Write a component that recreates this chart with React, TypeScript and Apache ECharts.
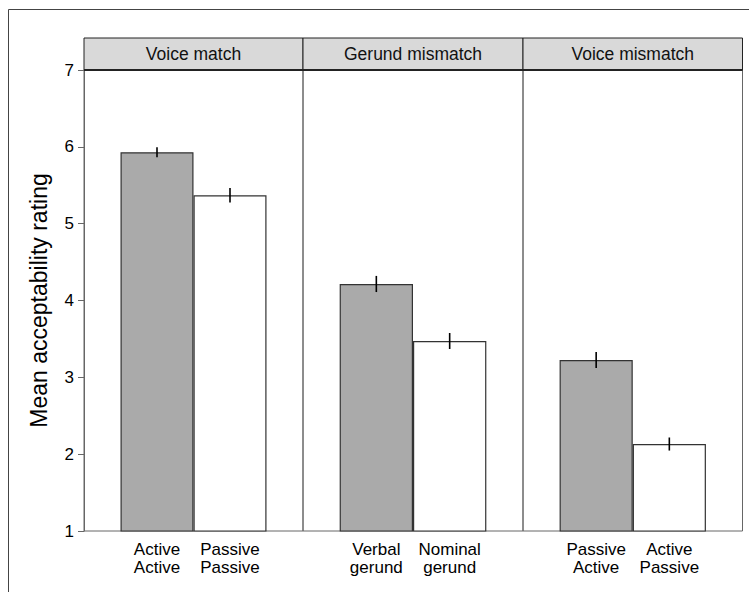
import React, { useEffect, useRef } from "react";
import * as echarts from "echarts";

const panels = ["Voice match", "Gerund mismatch", "Voice mismatch"];
const conditionLabels = [
  ["Active\nActive", "Passive\nPassive"],
  ["Verbal\ngerund", "Nominal\ngerund"],
  ["Passive\nActive", "Active\nPassive"],
];
const means = [
  [5.93, 5.37],
  [4.215, 3.473],
  [3.226, 2.132],
];
const errors = [
  [0.065, 0.093],
  [0.105, 0.104],
  [0.104, 0.085],
];
const yTicks = [1, 2, 3, 4, 5, 6, 7];
const barColors = ["#aaaaaa", "#ffffff"];

const FONT = "'Liberation Sans', Arial, Helvetica, sans-serif";

export default function App() {
  const ref = useRef<HTMLDivElement>(null);

  useEffect(() => {
    if (!ref.current) return;
    const chart = echarts.init(ref.current, null, { renderer: "svg" });

    const edges = [84, 303, 523, 742.5];
    const top = 70;
    const bottom = 531;
    const stripTop = 38;

    const grids: any[] = [];
    const xAxes: any[] = [];
    const yAxes: any[] = [];
    const series: any[] = [];
    const graphics: any[] = [];

    graphics.push({
      type: "rect",
      shape: { x: 8.5, y: 9.5, width: 900, height: 800 },
      style: { fill: "none", stroke: "#444", lineWidth: 1 },
      z: 0,
      silent: true,
    });

    panels.forEach((name, i) => {
      const left = edges[i];
      const width = edges[i + 1] - edges[i];
      grids.push({
        left,
        top,
        width,
        height: bottom - top,
        show: true,
        borderColor: "#666",
        borderWidth: 1,
        backgroundColor: "transparent",
      });
      xAxes.push({
        type: "value",
        gridIndex: i,
        min: 0,
        max: 3,
        interval: 1,
        axisLine: { show: false },
        axisTick: { show: false },
        splitLine: { show: false },
        axisLabel: {
          show: true,
          margin: 9,
          color: "#000",
          fontFamily: FONT,
          fontSize: 17,
          lineHeight: 18.5,
          align: "center",
          formatter: (v: number) => conditionLabels[i][v - 1] ?? "",
        },
      });
      yAxes.push({
        type: "value",
        gridIndex: i,
        min: yTicks[0],
        max: yTicks[yTicks.length - 1],
        interval: 1,
        splitLine: { show: false },
        axisLine: { show: i === 0, lineStyle: { color: "#666", width: 1 } },
        axisTick: { show: i === 0, length: 6, lineStyle: { color: "#666", width: 1 } },
        axisLabel: {
          show: i === 0,
          margin: 10,
          color: "#000",
          fontFamily: FONT,
          fontSize: 17,
        },
        name: i === 0 ? "Mean acceptability rating" : "",
        nameLocation: "middle",
        nameGap: 34,
        nameTextStyle: { color: "#000", fontFamily: FONT, fontSize: 23 },
      });
      series.push({
        type: "bar",
        xAxisIndex: i,
        yAxisIndex: i,
        barWidth: width / 3,
        data: means[i].map((m, j) => ({
          value: [j + 1, m],
          itemStyle: {
            color: barColors[j],
            borderColor: "#333",
            borderWidth: 1.2,
          },
        })),
      });
      series.push({
        type: "custom",
        xAxisIndex: i,
        yAxisIndex: i,
        encode: { x: 0, y: [1, 2] },
        data: means[i].map((m, j) => [j + 1, m - errors[i][j], m + errors[i][j]]),
        renderItem: (_params: any, api: any) => {
          const x = api.value(0);
          const p1 = api.coord([x, api.value(1)]);
          const p2 = api.coord([x, api.value(2)]);
          return {
            type: "line",
            shape: { x1: p1[0], y1: p1[1], x2: p2[0], y2: p2[1] },
            style: { stroke: "#000", lineWidth: 1.6 },
          };
        },
        z: 5,
      });

      graphics.push({
        type: "rect",
        shape: { x: left, y: stripTop, width, height: top - stripTop },
        style: { fill: "#d9d9d9", stroke: "#222", lineWidth: 1 },
        z: 10,
        silent: true,
      });
      graphics.push({
        type: "line",
        shape: { x1: left, y1: top, x2: left + width, y2: top },
        style: { stroke: "#222", lineWidth: 2 },
        z: 11,
        silent: true,
      });
      graphics.push({
        type: "text",
        x: left + width / 2,
        y: (stripTop + top) / 2,
        style: {
          text: name,
          fill: "#111",
          font: `17.5px ${FONT}`,
          textAlign: "center",
          textVerticalAlign: "middle",
        },
        z: 12,
        silent: true,
      });
    });

    chart.setOption({
      animation: false,
      backgroundColor: "#fff",
      grid: grids,
      xAxis: xAxes,
      yAxis: yAxes,
      series,
      graphic: graphics,
    });

    return () => chart.dispose();
  }, []);

  return (
    <div
      ref={ref}
      style={{ position: "fixed", left: 0, top: 0, width: 749, height: 592 }}
    />
  );
}
